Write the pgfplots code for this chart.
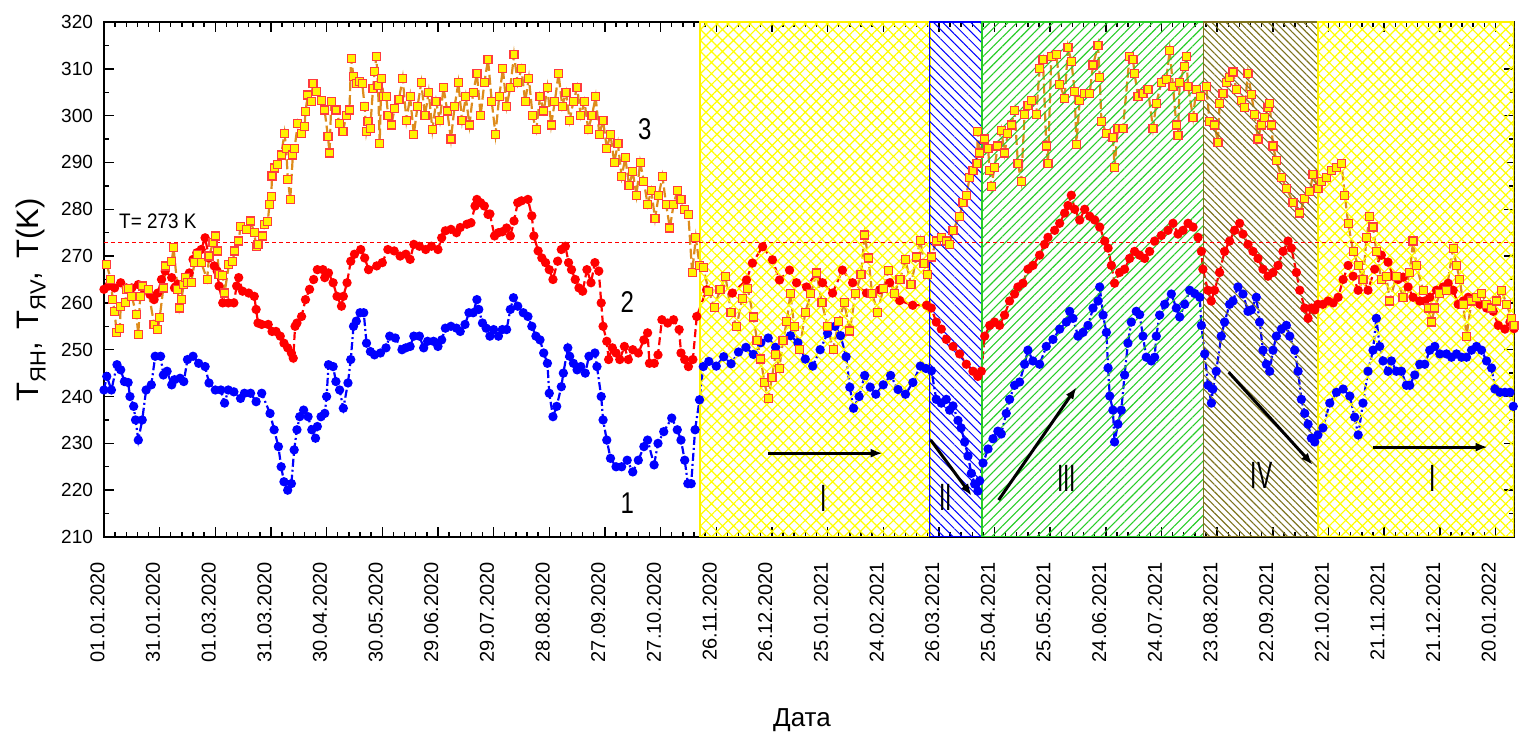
\documentclass[border=0pt]{standalone}
\usepackage{pgfplots}
\pgfplotsset{compat=1.18}
\usepackage{fontspec}
\setmainfont{Liberation Sans}
\usetikzlibrary{patterns.meta,arrows.meta}
\definecolor{orng}{RGB}{222,140,28}
\definecolor{olv}{RGB}{125,115,30}
\definecolor{grn}{RGB}{40,205,40}
\definecolor{mkedge}{RGB}{255,60,60}
\newcommand{\sub}[1]{\raisebox{-0.45ex}{\fontsize{11}{11}\selectfont #1}}
\begin{document}
\begin{tikzpicture}
\begin{axis}[
  width=705pt, height=257.5pt, scale only axis,
  xmin=0, xmax=760, ymin=210, ymax=320,
  xtick={0,30,...,750},
  xticklabels={01.01.2020,31.01.2020,01.03.2020,31.03.2020,30.04.2020,30.05.2020,29.06.2020,29.07.2020,28.08.2020,27.09.2020,27.10.2020,26.11.2020,26.12.2020,25.01.2021,24.02.2021,26.03.2021,25.04.2021,25.05.2021,24.06.2021,24.07.2021,23.08.2021,22.09.2021,22.10.2021,21.11.2021,21.12.2021,20.01.2022},
  minor x tick num=4,
  ytick={210,220,...,320}, minor y tick num=1,
  tick align=inside, major tick length=5pt, minor tick length=2.5pt,
  tick style={black, line width=0.7pt},
  axis line style={black, line width=1pt},
  /pgf/number format/assume math mode=true,
  xticklabel style={xshift=-3.3pt, rotate=90, anchor=east, font=\fontsize{10}{10}\selectfont},
  yticklabel style={font=\fontsize{9.5}{10}\selectfont},
  xticklabel shift=9pt, yticklabel shift=2pt,
  xlabel={Дата}, ylabel={T\sub{ЯН},\hspace{2pt} T\sub{ЯV},\hspace{2pt} T(K)},
  xlabel style={at={(axis description cs:0.495,-0.355)}, anchor=center, font=\fontsize{13}{13}\selectfont},
  ylabel style={at={(axis description cs:-0.052,0.46)}, anchor=center, font=\fontsize{15.5}{16}\selectfont},
]
% series 1 (blue)
\addplot[blue, line width=1.1pt, dash pattern=on 4pt off 1.5pt on 1pt off 1.5pt, mark=*, mark size=1.75pt, mark options={solid, fill=blue, draw=blue}] coordinates {
(0,241.4)(1.5,244.3)(4,241.4)(7,246.8)(9,245.7)(11,243.2)(13,243.0)(14,240.0)(16,237.9)(17,235.0)(18.5,230.7)(20.6,235.0)(22.7,241.4)(25.5,242.5)(27.6,248.6)(30.5,248.6)(32,244.6)(34,245.4)(36.5,242.5)(38,243.6)(41,243.9)(43,243.2)(45,247.9)(48,248.6)(51,247.1)(54.5,246.4)(56.6,242.9)(60,241.4)(63,241.4)(65,238.6)(67,241.4)(70,241.0)(73.6,239.6)(75.7,240.7)(79,240.7)(82,238.9)(85,240.7)(89.5,236.4)(91.7,232.9)(94,229.3)(95.5,225.0)(97,221.8)(99,220.0)(101,221.4)(102.5,228.6)(104,232.9)(105.5,235.7)(107.6,237.1)(110,235.7)(112,232.9)(114,231.1)(115,233.6)(117,235.7)(119,236.4)(120,240.0)(121,246.8)(123.5,246.4)(125,243.2)(127,241.4)(129,237.5)(131.5,242.9)(133,247.9)(134.5,255.0)(136,256.1)(138,257.9)(140,257.9)(141.5,251.4)(143.6,249.6)(145.8,248.9)(149,249.3)(152,250.4)(154,252.9)(157,252.5)(160.6,250.0)(162.7,250.4)(165,250.7)(167,252.9)(170,252.9)(172.3,250.4)(174.4,251.8)(177.6,251.8)(180,250.7)(182,252.1)(184,254.6)(187,255.0)(190,254.6)(192,253.9)(194.6,255.4)(196.7,257.9)(199,257.9)(201,260.7)(202,258.6)(204,255.7)(206,254.6)(208,252.9)(210,254.3)(212.6,252.9)(214.7,254.3)(217,254.3)(219,258.6)(220.7,261.1)(223,259.3)(226,257.9)(228.5,257.1)(230.6,255.0)(232.8,252.9)(235,252.1)(237,249.3)(239,247.1)(240,240.7)(242,235.7)(244,237.9)(246.5,242.1)(247.6,245.0)(250,250.4)(251,248.6)(253,247.1)(255,245.7)(257,246.4)(259.4,245.0)(261.4,248.6)(264.6,249.3)(265.7,246.4)(268,240.0)(269,235.0)(271,230.7)(273,226.8)(276,225.0)(279,225.0)(282,226.4)(285,223.9)(288,226.4)(291,229.3)(293,230.7)(296.5,225.4)(298.6,230.0)(301.7,232.5)(306,235.4)(309,232.9)(311,230.7)(313,226.4)(314.7,221.4)(316.5,221.4)(318.6,232.9)(321,239.3)(323,246.4)
(326,247.5)(330,246.5)(334,248.5)(338,247.0)(342,249.5)(346,250.5)(350,249.0)(354,251.5)(358,252.5)(362,250.5)(366,252.0)(370,253.0)(374,251.5)(378,248.0)(382,246.5)(386,250.0)(390,253.5)(394,255.0)(397,253.0)(400,248.5)(402,242.0)(404,237.5)(407,240.0)(410,244.5)(413,242.0)(416,240.5)(420,242.5)(424,244.5)(428,241.5)(432,240.5)(436,243.0)(440,246.5)(443,246.0)
(446,245.5)(448.6,239.4)(451.3,238.6)(454,239.4)(455.8,237.1)(457.6,238.0)(460.3,234.9)(462,233.3)(463.9,230.3)(465.7,227.3)(467.5,223.6)(469.3,221.3)(471,219.8)(472,222.0)(473.8,225.8)(476.5,228.8)(479.2,231.0)(481.8,232.6)(483.6,232.0)(486.3,236.4)(488.1,239.4)(490.8,242.4)(493.5,243.1)(496.2,246.9)(498,249.9)(500.7,247.6)(504.3,246.9)(507.9,250.7)(511.5,252.2)(515.1,254.4)(518.7,255.9)(520.5,258.2)(522.3,256.7)(525,252.9)(527.7,253.7)(530.4,255.2)(533.1,258.9)(535.8,260.4)(536.7,263.4)(538.5,257.4)(540.3,253.7)(541.2,246.1)(542.1,240.1)(543.8,237.1)(544.7,230.3)(546.5,234.1)(548.3,237.1)(550.1,244.6)(551.9,251.4)(553.7,255.9)(556.4,258.2)(558.2,257.5)(560,252.9)(561.8,248.4)(564.5,247.6)(566.3,248.4)(567.2,252.9)(569,257.4)(571.7,259.7)(575.3,261.9)(578,258.9)(579.8,257.0)(582.5,259.7)(585.2,262.7)(587.9,262.0)(590.6,261.2)(591.5,255.2)(593.3,249.1)(595.1,242.4)(596.9,238.6)(597.7,241.6)(599.5,245.4)(602.2,252.9)(604,255.9)(606.7,259.7)(608.5,260.4)(611.2,263.4)(613.9,261.9)(616.6,258.2)(618.4,258.5)(621.1,261.2)(622.9,255.9)(624.7,249.9)(626.5,246.9)(628.3,245.4)(630.1,249.9)(631.9,252.9)(634.6,254.4)(637.3,255.2)(639.1,252.9)(641.8,249.9)(643.6,245.4)(645.4,239.4)(647.2,236.4)(649,234.1)(650.8,231.1)(652.6,230.3)(654.3,231.8)(657,233.3)(660.7,238.6)(664.3,240.9)(667.9,241.6)(671.5,240.1)(674.1,235.6)(676,231.8)(678.6,238.6)(681.3,245.4)(684,249.9)(685.8,256.7)(687.6,250.7)(689.4,247.6)(692.1,245.4)(693.9,247.6)(696.6,245.4)(699.3,245.4)(702,242.4)(703.8,242.4)(706.5,244.6)(709.2,246.9)(711.9,246.9)(714.6,249.9)(717.3,250.7)(720,249.1)(723.6,249.1)(726.3,248.4)(729,249.1)(731.7,248.4)(734.4,248.4)(737.1,249.9)(739.8,250.7)(742.5,249.9)(745.2,247.6)(747.9,246.1)(749.7,241.6)(752.4,240.9)(755.1,240.9)(757.8,240.9)(759.6,237.9)
};
% series 2 (red)
\addplot[red, line width=1.1pt, dash pattern=on 4pt off 2pt, mark=*, mark size=1.75pt, mark options={solid, fill=red, draw=red}] coordinates {
(0,262.9)(2.5,263.6)(5.7,263.2)(9,264.3)(12,263.2)(15,263.2)(18.5,263.9)(21.6,262.9)(24.8,261.8)(27,260.7)(29,262.1)(31,265.0)(33,266.8)(36.5,265.4)(38,263.2)(39.7,264.0)(42,263.9)(44,264.3)(46,266.4)(48,269.3)(50,270.7)(52.4,271.4)(54.5,273.9)(56.6,269.6)(59.4,267.9)(61,266.8)(62,263.6)(64,260.0)(67,260.0)(70,260.0)(71.5,263.6)(72.6,265.4)(74.7,262.5)(78,262.1)(81,261.4)(82,258.6)(83,255.7)(85,255.4)(88.5,255.4)(90.6,253.9)(92.7,253.9)(95,252.9)(97,251.4)(99,250.4)(101,249.3)(102,248.2)(103,255.0)(104,255.7)(106.5,257.1)(108.6,260.7)(110.8,262.9)(113,265.0)(115,267.1)(118,267.1)(119,265.4)(121,266.4)(123.5,264.3)(125.6,261.4)(128,259.3)(129,261.4)(131,264.3)(133,268.9)(135,270.4)(138.4,271.4)(140.5,269.6)(142.6,267.1)(147,267.9)(150,268.6)(153,271.4)(156.4,271.1)(159.6,270.0)(162.7,270.4)(165,269.3)(167,272.5)(170,272.1)(173.4,271.4)(176.5,272.1)(180,271.4)(182,273.9)(184,275.4)(187,275.7)(190,275.0)(192,276.1)(195.6,276.8)(197.8,277.1)(200,280.7)(201,282.1)(203,281.4)(205,280.7)(207,278.9)(208,279.0)(210.5,274.3)(212.6,275.0)(214.7,275.2)(217,276.0)(219,274.3)(221,277.5)(223,281.4)(225,281.8)(228.5,282.1)(230.6,278.6)(231.7,274.3)(234,271.1)(236,269.6)(238,268.6)(240,267.1)(242,265.0)(244.5,268.9)(246.5,271.4)(248.7,272.1)(250.4,268.6)(252,267.1)(254,265.0)(256,263.2)(258,262.5)(260.3,267.1)(262.5,264.3)(264.6,268.6)(266.7,266.8)(268,260.0)(269,255.0)(271,251.8)(272,247.9)(274,250.4)(276,249.3)(278,247.9)(280.5,250.7)(282.6,247.9)(285,250.0)(288,249.3)(291,252.1)(293,253.6)(294,247.1)(296.6,247.1)(298.6,248.9)(300.7,256.4)(303.8,255.7)(307,256.4)(310,254.3)(311,249.3)(313,247.9)(315,246.4)(317.4,247.9)(319.5,257.1)
(324.8,262.8)(331.7,262.8)(338.7,262.1)(346.3,264.9)(349.5,268.5)(355,272.0)(360.3,269.2)(364.1,264.9)(369.5,267.0)(373.3,264.3)(378.7,263.4)(384,266.4)(387.3,264.3)(392.7,262.1)(398,267.0)(403.5,264.3)(411,262.1)(418.1,262.8)(423.5,264.3)(428.9,260.5)(435.9,259.5)(443.4,259.5)
(445.9,258.9)(448.6,255.9)(451.3,254.4)(454,252.2)(457.6,250.7)(461.2,249.1)(464.8,246.9)(468.4,245.4)(471,244.3)(472.9,245.4)(474.7,252.9)(477.4,255.2)(480,255.9)(482.7,255.2)(485.4,257.4)(488.1,260.4)(490.8,261.9)(492.6,263.4)(495.3,264.2)(498,267.2)(500.7,268.0)(504.3,270.2)(507,272.5)(508.8,274.0)(512.4,275.5)(515.1,277.0)(517.8,279.2)(519.6,280.8)(521.4,283.0)(523.2,280.0)(525.9,277.7)(528.6,280.0)(531.3,278.5)(534,277.7)(536.7,276.2)(539.4,273.2)(541.2,271.7)(543,268.0)(544.7,264.2)(547.4,266.5)(550.1,267.2)(552.8,269.5)(555.5,271.0)(558.2,270.2)(560.9,269.5)(563.6,271.0)(566.3,273.2)(569.9,274.4)(573.5,275.5)(576.2,277.0)(578.9,274.7)(581.6,275.5)(584.3,277.0)(587,276.2)(589.7,274.0)(591.5,271.0)(592.3,267.2)(595,262.7)(596.8,260.4)(598.6,262.7)(601.3,266.5)(604,271.0)(606.7,273.2)(609.4,275.5)(612.1,277.0)(613.9,274.7)(616.6,272.5)(619.3,271.0)(622,269.5)(624.7,267.2)(627.4,265.7)(630.1,266.5)(632.8,268.0)(635.5,271.0)(638.2,273.2)(640,271.7)(642.7,266.5)(644.5,262.7)(647.2,258.9)(649,256.7)(650.8,258.9)(652.6,258.5)(654.3,259.7)(657,259.7)(659.8,260.4)(662.5,260.0)(665.2,261.2)(667.9,265.0)(670.6,268.0)(673.3,265.7)(676,262.7)(678.6,265.0)(681.3,262.7)(684.9,267.2)(688.5,270.2)(692.1,268.7)(694.8,265.7)(697.5,265.0)(700.2,265.5)(702.9,263.4)(705.6,261.2)(709.2,260.4)(711.9,260.4)(714.6,261.2)(718.2,262.7)(721.8,263.4)(724.5,264.2)(727.2,262.7)(729.9,259.7)(732.6,260.4)(735.3,261.2)(738,260.5)(741.6,259.7)(745.2,258.9)(748.8,258.2)(751.5,255.2)(755.1,254.4)(757.8,255.9)(760,254.5)
};
% series 3 (orange)
\addplot[orng, line width=1.1pt, dash pattern=on 5pt off 2pt, mark=square*, mark size=2pt, mark options={solid, fill=yellow, draw=mkedge, line width=0.6pt}] coordinates {
(1.5,268.2)(3.6,265.0)(4.7,260.7)(5.7,258.2)(6.8,253.6)(8.5,254.6)(9,259.3)(11.5,260.0)(12,262.9)(13,263.0)(15,261.4)(17.4,257.5)(18.5,253.2)(19.5,261.4)(20.6,263.6)(23.8,262.9)(27,255.4)(29,254.3)(30,256.8)(32,263.2)(33.3,267.9)(36.5,268.9)(37.5,271.8)(39.7,262.9)(40.7,258.9)(41.8,260.7)(42.9,263.9)(44,265.4)(45,264.3)(47,264.3)(48.8,268.6)(50.3,270.4)(52.4,268.6)(55.6,265.0)(56.6,270.0)(58.8,272.9)(60,274.3)(61,271.1)(62,266.1)(64,265.8)(65,262.1)(67.3,268.2)(69.4,268.9)(70.4,271.1)(72.6,273.2)(73.6,276.4)(76.8,275.7)(79,277.5)(81,275.0)(82,272.1)(83,272.4)(85.3,274.3)(86.5,276.7)(88.3,277.4)(89.2,281.1)(90.1,282.7)(90.6,287.1)(91.9,288.8)(93.7,289.5)(95.5,291.6)(97.3,296.2)(98.2,293.0)(99.1,286.3)(100.4,282.1)(101.8,291.6)(102.7,293.0)(104.5,298.4)(106.3,296.2)(108.1,297.6)(108.6,300.9)(109.9,304.4)(111.7,303.0)(112.6,306.9)(114.4,305.1)(117.1,303.3)(118.9,301.2)(120.7,295.5)(121.6,292.0)(122.5,303.1)(125.1,301.2)(127,298.4)(128.8,296.6)(130.6,300.1)(132.3,301.2)(133.2,312.2)(134.5,308.3)(135.9,306.9)(137.7,307.3)(139.2,306.9)(140.5,301.9)(141.4,296.6)(142.3,298.7)(143.5,297.3)(145,305.8)(145.9,309.4)(146.8,312.6)(147.7,306.5)(148.6,294.1)(149.5,308.0)(150.7,304.1)(152.2,304.0)(153.1,300.1)(154.9,298.0)(156.7,301.6)
(159,303.5)(161,308)(163,299)(165,304)(167,296)(169,302)(171,307)(173,300)(175,305)(177,297)(179,303)(181,299)(183,306)(185,301)(187,295)(189,302)(191,307)(193,299)(195,304)(197,298)(199,305)(201,309)(203,300)(205,307)(207,312)(209,303)(211,296)(213,304)(215,310)(217,302)(219,306)(221,313)(223,307)(225,310)(227,303)(229,308)(231,300)(233,297)(235,304)(237,301)(239,306)(241,298)(243,303)(245,309)(247,302)(249,305)(251,299)(253,303)(255,306)(257,300)(259,303)(261,297)(263,300)(265,304)(267,296)(269,299)(271,293)(273,296)(275,290)(277,294)(279,287)(281,291)(283,285)(285,288)(287,283)(289,290)(291,286)(293,281)(295,284)(297,278)(299,283)(301,287)(303,281)(305,276)(307,281)(309,284)(311,282)(313,280)(315,278.8)(317,266.5)(319,273.9)(321,268)
(323,267.5)(326,262.5)(329,259)(332,262.8)(335,265.6)(338,258)(341,255)(344,261)(347,263)(350,257)(352,252)(354,248)(356,243)(358,239.5)(360,244)(362,249)(364,246)(366,252)(368,256)(370,262)(372,255)(375,250)(378,258)(381,262)(384,266.4)(387,260)(390,255)(393,250)(396,256)(399,260)(402,254)(405,262)(408,266)(410,274.5)(412,269.6)(414,262)(417,258)(420,263)(423,267)(426,262)(429,265)(432,269.2)(435,264)(438,269.8)(440,273.4)(442,268.5)(444,266)
(445.9,269.8)(448.6,273.2)(451.3,274.0)(454,273.2)(455.8,272.5)(457.6,275.5)(461.2,278.5)(463,281.5)(464.8,283.0)(466.6,286.8)(468.4,288.3)(470.5,289.8)(471,296.6)(472,292.0)(474.7,295.0)(476.5,293.0)(477.4,288.3)(478.3,284.9)(480,289.0)(481.8,293.5)(483.6,296.9)(485.4,292.0)(487.2,296.2)(489,298.0)(490.8,301.1)(492.6,289.8)(494.4,286.0)(496.2,300.3)(498,302.2)(499.8,303.3)(502.5,300.3)(504.3,310.1)(506.1,312.0)(507.9,293.5)(508.8,289.8)(510.6,312.7)(513.3,313.1)(515.1,306.7)(517.8,303.7)(519.6,314.6)(521.4,311.6)(523.2,305.2)(524.1,293.9)(525.9,303.3)(528.6,304.8)(531.3,304.8)(533.1,310.8)(535.8,315.0)(536.7,308.2)(537.6,298.8)(540.3,296.2)(543.8,295.4)(544.7,289.0)(546.5,297.3)(549.2,297.3)(552.8,312.7)(554.6,312.0)(555.5,309.0)(557.3,304.1)(560,304.8)(562.7,305.6)(565.4,297.3)(567.2,302.6)(569.9,307.1)(572.6,307.8)(574.4,313.9)(576.2,306.3)(578,298.0)(578.9,295.8)(579.8,307.1)(582.5,310.5)(583.4,312.7)(584.3,306.3)(587,299.6)(588.7,305.6)(591,304)(594.1,306.3)(595.9,298.8)(598.6,298.0)(600.4,294.3)(601.3,302.6)(603.1,304.8)(604.9,307.1)(606.7,308.2)(608.5,309.3)(610.3,305.6)(613,303.3)(614.8,301.8)(616.6,309.0)(618.4,304.5)(620.2,300.3)(622,295.0)(623.8,298.0)(625.6,299.6)(627.4,301.8)(628.3,302.6)(629.2,298.0)(630.1,293.5)(631.9,290.5)(634.6,286.8)(637.3,284.5)(640.9,281.5)(644.5,279.2)(647.2,282.3)(649.9,283.8)(651.7,287.5)(654.3,284.5)(656.1,286.0)(658.9,286.8)(661.6,288.3)(664.3,289.0)(667,289.8)(668.8,283.0)(670.6,277.0)(673.3,271.0)(676,268.0)(678.6,265.0)(680.5,274.0)(682.3,278.5)(684,276.2)(685.8,271.0)(688.5,265.0)(691.2,265.7)(693,260.4)(696.6,265.7)(700.2,261.2)(703.8,266.5)(705.6,273.2)(707.4,268.0)(711,262.7)(713.7,258.9)(715.5,255.9)(717.3,258.9)(720,262.0)(723.6,262.7)(727.2,271.7)(729,268.0)(730.8,265.0)(732.6,259.7)(734.4,252.9)(737.1,260.4)(739.8,261.2)(742.5,262.0)(745.2,259.7)(747.9,258.9)(750.6,260.4)(753.3,262.7)(756,259.7)(758.7,256.7)(760,255.2)
};
% hatched periods
\addplot[draw=yellow, line width=1pt, pattern={Hatch[angle=45,distance=3.9pt,line width=0.6pt]}, pattern color=yellow] coordinates {(321.4,210)(445,210)(445,320)(321.4,320)} -- cycle;
\addplot[draw=blue, line width=0.8pt, pattern={Lines[angle=-45,distance=3.3pt,line width=0.5pt]}, pattern color=blue] coordinates {(445,210)(473.4,210)(473.4,320)(445,320)} -- cycle;
\addplot[draw=grn, line width=0.8pt, pattern={Lines[angle=45,distance=3.2pt,line width=0.55pt]}, pattern color=grn] coordinates {(473.4,210)(592.7,210)(592.7,320)(473.4,320)} -- cycle;
\addplot[draw=olv, line width=0.8pt, pattern={Lines[angle=-45,distance=2.5pt,line width=0.55pt]}, pattern color=olv] coordinates {(592.7,210)(654.2,210)(654.2,320)(592.7,320)} -- cycle;
\addplot[draw=yellow, line width=1pt, pattern={Hatch[angle=45,distance=3.9pt,line width=0.6pt]}, pattern color=yellow] coordinates {(654.2,210)(760,210)(760,320)(654.2,320)} -- cycle;
% 273 K line
\addplot[red, line width=0.4pt, dash pattern=on 2pt off 1.5pt] coordinates {(0,273)(760,273)};
% arrows
\draw[line width=1.5pt, -{Latex[length=6pt,width=4.5pt]}] (axis cs:357.9,227.9) -- (axis cs:419.7,227.9);
\draw[line width=1.5pt, -{Latex[length=6pt,width=4.5pt]}] (axis cs:445.6,230.7) -- (axis cs:467.7,218.8);
\draw[line width=1.5pt, -{Latex[length=6pt,width=4.5pt]}] (axis cs:482.2,217.9) -- (axis cs:524.2,242.0);
\draw[line width=1.5pt, -{Latex[length=6pt,width=4.5pt]}] (axis cs:606.2,245.2) -- (axis cs:651.5,225.4);
\draw[line width=1.5pt, -{Latex[length=6pt,width=4.5pt]}] (axis cs:683.8,229.2) -- (axis cs:745.8,229.2);
% labels
\node at (axis cs:387.9,218.3) {\scalebox{0.6}[1]{\fontsize{19}{19}\selectfont I}};
\node at (axis cs:453.6,218.5) {\scalebox{0.6}[1]{\fontsize{19}{19}\selectfont II}};
\node at (axis cs:518.9,222.6) {\scalebox{0.6}[1]{\fontsize{19}{19}\selectfont III}};
\node at (axis cs:624,223.2) {\scalebox{0.6}[1]{\fontsize{19}{19}\selectfont IV}};
\node at (axis cs:716.2,222.6) {\scalebox{0.6}[1]{\fontsize{19}{19}\selectfont I}};
\node at (axis cs:291.5,297) {\scalebox{0.8}[1]{\fontsize{15}{15}\selectfont 3}};
\node at (axis cs:282,260.2) {\scalebox{0.8}[1]{\fontsize{15}{15}\selectfont 2}};
\node at (axis cs:282,217.3) {\scalebox{0.8}[1]{\fontsize{15}{15}\selectfont 1}};
\node[anchor=west, inner sep=0pt] at (axis cs:8,277.4) {\scalebox{0.9}[1]{\fontsize{10.5}{11}\selectfont T= 273 K}};
\end{axis}
\pgfresetboundingbox
\path ([xshift=-52pt,yshift=-102pt]current axis.south west) rectangle ([xshift=2.5pt,yshift=11pt]current axis.north east);
\end{tikzpicture}
\end{document}
